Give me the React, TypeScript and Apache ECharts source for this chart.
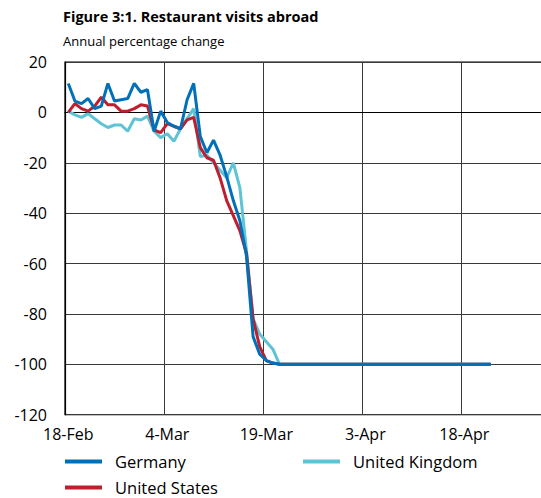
import { useEffect, useRef } from 'react';
import * as echarts from 'echarts';

const DATES = [
  '18-Feb', '19-Feb', '20-Feb', '21-Feb', '22-Feb', '23-Feb', '24-Feb', '25-Feb', '26-Feb', '27-Feb', '28-Feb', '29-Feb',
  '1-Mar', '2-Mar', '3-Mar', '4-Mar', '5-Mar', '6-Mar', '7-Mar', '8-Mar', '9-Mar', '10-Mar', '11-Mar', '12-Mar',
  '13-Mar', '14-Mar', '15-Mar', '16-Mar', '17-Mar', '18-Mar', '19-Mar', '20-Mar', '21-Mar', '22-Mar', '23-Mar',
  '24-Mar', '25-Mar', '26-Mar', '27-Mar', '28-Mar', '29-Mar', '30-Mar', '31-Mar',
  '1-Apr', '2-Apr', '3-Apr', '4-Apr', '5-Apr', '6-Apr', '7-Apr', '8-Apr', '9-Apr', '10-Apr', '11-Apr', '12-Apr',
  '13-Apr', '14-Apr', '15-Apr', '16-Apr', '17-Apr', '18-Apr', '19-Apr', '20-Apr', '21-Apr', '22-Apr', '23-Apr',
  '24-Apr', '25-Apr', '26-Apr', '27-Apr', '28-Apr', '29-Apr', '30-Apr',
];

const Y_MIN = -120;
const Y_MAX = 20;
const Y_STEP = 20;

const GERMANY = [
  11.5, 4.5, 3.5, 5.5, 1.5, 2.5, 11.5, 4.5, 5, 5.5, 11.5, 8, 9, -7.5, 0.5, -4, -5.5, -6.5, 5, 11.5,
  -9.5, -16, -11, -17, -25.5, -35, -43, -57, -89, -96, -98.5, -99.5,
  -100, -100, -100, -100, -100, -100, -100, -100, -100, -100, -100, -100, -100, -100, -100, -100, -100,
  -100, -100, -100, -100, -100, -100, -100, -100, -100, -100, -100, -100, -100, -100, -100, -100,
];

const UNITED_KINGDOM = [
  0.5, -1, -2, -0.5, -2.5, -4.5, -6, -5, -5, -7.5, -2.5, -3, -1.5, -7.5, -10, -8.5, -11.5, -6.5, -2.5, 1.5,
  -17.5, -17, -20, -23, -26, -20, -30, -55, -82, -88, -91, -94,
  -100, -100, -100, -100, -100, -100, -100, -100, -100, -100, -100, -100, -100, -100, -100, -100, -100,
  -100, -100, -100, -100, -100, -100, -100, -100, -100, -100, -100, -100, -100, -100, -100, -100,
];

const UNITED_STATES = [
  0, 3.5, 1.5, 0.5, 2.5, 6, 3, 3, 0.5, 0.5, 1.5, 3, 2.5, -7, -8, -4.5, -5.5, -6.5, -3, -2,
  -14, -18, -19, -26, -35, -41, -47, -56, -82, -93, -98.5, -99.5,
  -100, -100, -100, -100, -100, -100, -100, -100, -100, -100, -100, -100, -100, -100, -100, -100, -100,
  -100, -100, -100, -100, -100, -100, -100, -100, -100, -100, -100, -100, -100, -100, -100, -100,
];

const COLORS = {
  germany: '#0070B8',
  uk: '#5EC3D5',
  us: '#BE1E2D',
};

const FONT = 'Open Sans';

export default function App() {
  const ref = useRef<HTMLDivElement>(null);

  useEffect(() => {
    if (!ref.current) return;
    const chart = echarts.init(ref.current, null, { renderer: 'svg' });
    const legendText = { color: '#000', fontSize: 16.5, fontFamily: FONT, padding: [0, 0, 0, 8] };
    chart.setOption({
      animation: false,
      backgroundColor: '#fff',
      textStyle: { fontFamily: FONT, color: '#000' },
      title: [
        {
          text: 'Figure 3:1. Restaurant visits abroad',
          left: 63,
          top: 9,
          padding: 0,
          textStyle: { fontSize: 14.5, fontWeight: 'bold', color: '#000', fontFamily: FONT },
        },
        {
          text: 'Annual percentage change',
          left: 63,
          top: 34,
          padding: 0,
          textStyle: { fontSize: 13, fontWeight: 'normal', color: '#000', fontFamily: FONT },
        },
      ],
      legend: [
        {
          data: ['Germany'],
          left: 65,
          top: 453,
          padding: 0,
          icon: 'rect',
          itemWidth: 37,
          itemHeight: 4,
          textStyle: legendText,
        },
        {
          data: ['United Kingdom'],
          left: 303,
          top: 453,
          padding: 0,
          icon: 'rect',
          itemWidth: 37,
          itemHeight: 4,
          textStyle: legendText,
        },
        {
          data: ['United States'],
          left: 65,
          top: 479,
          padding: 0,
          icon: 'rect',
          itemWidth: 37,
          itemHeight: 4,
          textStyle: legendText,
        },
      ],
      grid: {
        left: 65,
        top: 62,
        right: 560 - (65 + 73 * 6.6),
        bottom: 498 - 414.7,
        show: true,
        borderColor: '#000',
        borderWidth: 1.2,
        containLabel: false,
      },
      xAxis: {
        type: 'category',
        data: DATES,
        boundaryGap: true,
        axisLine: { show: true, lineStyle: { color: '#000', width: 1.2 } },
        axisTick: { show: false },
        axisLabel: { interval: 14, fontSize: 16, color: '#000', margin: 11, fontFamily: FONT },
        splitLine: { show: true, interval: 14, lineStyle: { color: '#3a3a3a', width: 1 } },
      },
      yAxis: {
        type: 'value',
        min: Y_MIN,
        max: Y_MAX,
        interval: Y_STEP,
        axisLine: { show: true, lineStyle: { color: '#000', width: 1.2 } },
        axisTick: { show: false },
        axisLabel: { fontSize: 16, color: '#000', margin: 18, fontFamily: FONT },
        splitLine: { show: true, lineStyle: { color: '#3a3a3a', width: 1 } },
      },
      series: [
        {
          name: 'United Kingdom',
          type: 'line',
          data: UNITED_KINGDOM,
          showSymbol: false,
          symbol: 'none',
          lineStyle: { color: COLORS.uk, width: 3 },
          itemStyle: { color: COLORS.uk },
        },
        {
          name: 'United States',
          type: 'line',
          data: UNITED_STATES,
          showSymbol: false,
          symbol: 'none',
          lineStyle: { color: COLORS.us, width: 3 },
          itemStyle: { color: COLORS.us },
        },
        {
          name: 'Germany',
          type: 'line',
          data: GERMANY,
          showSymbol: false,
          symbol: 'none',
          lineStyle: { color: COLORS.germany, width: 3 },
          itemStyle: { color: COLORS.germany },
        },
      ],
    });
    return () => chart.dispose();
  }, []);

  return (
    <div
      ref={ref}
      style={{ position: 'fixed', left: 0, top: 0, width: 560, height: 498, background: '#fff' }}
    />
  );
}
